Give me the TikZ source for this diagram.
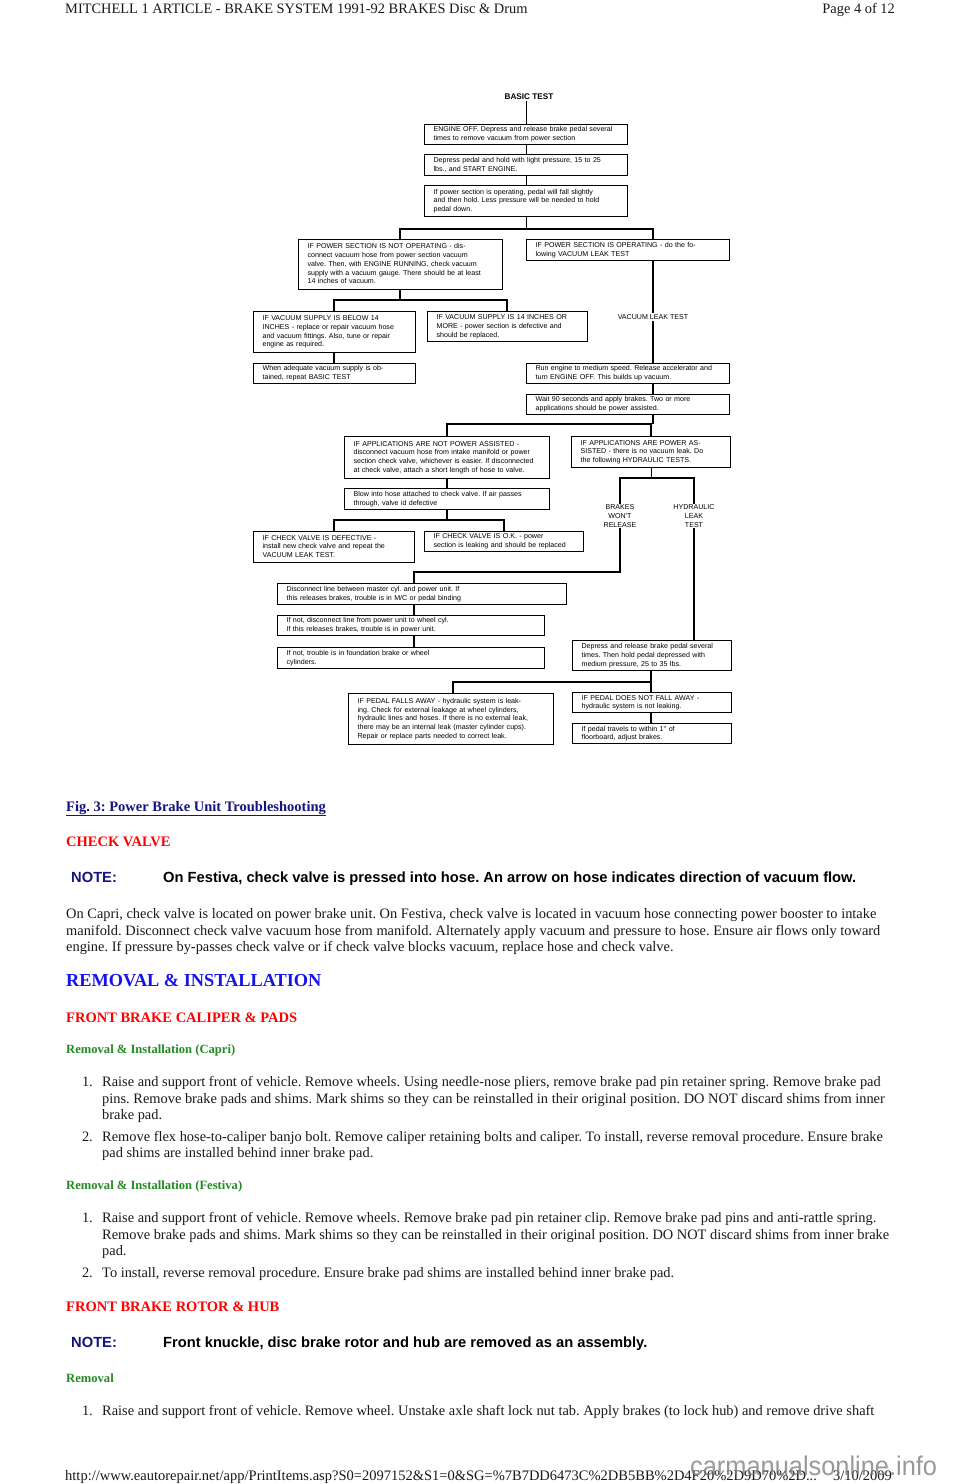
\documentclass[tikz,border=0pt]{standalone}
\usepackage{fontspec}
\setmainfont{Liberation Serif}
\newfontfamily\arial{Liberation Sans}
\definecolor{navyc}{RGB}{20,20,128}
\definecolor{bluec}{RGB}{20,20,235}
\definecolor{redc}{RGB}{255,0,0}
\definecolor{greenc}{RGB}{34,139,34}
\definecolor{inkc}{RGB}{25,25,25}
\definecolor{wmc}{RGB}{120,120,120}
\newcommand\flowf{\arial\fontsize{7.1}{8.7}\selectfont}
\newcommand\bodyf{\fontsize{14.4}{16.5}\selectfont}
\newcommand\lns[1]{\begin{tabular}{@{}l@{}}#1\end{tabular}}
\frenchspacing
\tikzset{
  fb/.style={draw, line width=1.2pt, anchor=north west, inner xsep=9pt, inner ysep=1pt, align=left, font=\flowf},
  lbl/.style={font=\flowf, align=center, inner sep=1pt},
  conn/.style={line width=1.1pt},
  txt/.style={anchor=base west, inner sep=0pt, font=\bodyf, text=inkc},
  num/.style={anchor=base east, inner sep=0pt, font=\bodyf, text=inkc},
  redh/.style={anchor=base west, inner sep=0pt, font=\fontsize{14.5}{16}\selectfont\bfseries, text=redc},
  greenh/.style={anchor=base west, inner sep=0pt, font=\fontsize{12.6}{14}\selectfont\bfseries, text=greenc},
  notel/.style={anchor=base west, inner sep=0pt, font=\arial\fontsize{14.7}{16}\selectfont\bfseries, text=navyc},
  notet/.style={anchor=base west, inner sep=0pt, font=\arial\fontsize{14.7}{16}\selectfont\bfseries, text=black},
  headf/.style={inner sep=0pt, font=\fontsize{14.4}{16}\selectfont, text=inkc}
}
\begin{document}
\begin{tikzpicture}[x=1pt,y=-1pt]
\useasboundingbox[fill=white] (0,0) rectangle (960,1484);
% header
\node[headf, anchor=base west] (hdl) at (65,13) {MITCHELL 1 ARTICLE - BRAKE SYSTEM 1991-92 BRAKES Disc \& Drum};
\node[headf, anchor=base east] (hdr) at (895,13) {Page 4 of 12};

% ---------- flowchart ----------
\node[lbl, font=\arial\fontsize{8.2}{9}\selectfont\bfseries] (basic) at (529,97) {BASIC TEST};
\node[fb, minimum height=20pt, text width=185pt] (a1) at (424,124) {\lns{ENGINE OFF. Depress and release brake pedal several\\ times to remove vacuum from power section}};
\node[fb, minimum height=21pt, text width=185pt] (a2) at (424,154) {\lns{Depress pedal and hold with light pressure, 15 to 25\\ lbs., and START ENGINE.}};
\node[fb, minimum height=31pt, text width=185pt] (a3) at (424,185) {\lns{If power section is operating, pedal will fall slightly\\ and then hold. Less pressure will be needed to hold\\ pedal down.}};
\node[fb, minimum height=50pt, text width=186pt] (l1) at (298,239) {\lns{IF POWER SECTION IS NOT OPERATING - dis-\\ connect vacuum hose from power section vacuum\\ valve. Then, with ENGINE RUNNING, check vacuum\\ supply with a vacuum gauge. There should be at least\\ 14 inches of vacuum.}};
\node[fb, minimum height=21pt, text width=185pt] (r1) at (526,239) {\lns{IF POWER SECTION IS OPERATING - do the fo-\\ lowing VACUUM LEAK TEST}};
\node[fb, minimum height=41pt, text width=144pt] (l2a) at (253,311) {\lns{IF VACUUM SUPPLY IS BELOW 14\\ INCHES - replace or repair vacuum hose\\ and vacuum fittings. Also, tune or repair\\ engine as required.}};
\node[fb, minimum height=30pt, text width=142pt] (l2b) at (427,311) {\lns{IF VACUUM SUPPLY IS 14 INCHES OR\\ MORE - power section is defective and\\ should be replaced.}};
\node[fb, minimum height=20pt, text width=144pt] (l3) at (253,363) {\lns{When adequate vacuum supply is ob-\\ tained, repeat BASIC TEST}};
\node[lbl] (vlt) at (653,317) {VACUUM LEAK TEST};
\node[fb, minimum height=20pt, text width=185pt] (r2) at (526,363) {\lns{Run engine to medium speed. Release accelerator and\\ turn ENGINE OFF. This builds up vacuum.}};
\node[fb, minimum height=20pt, text width=185pt] (r3) at (526,394) {\lns{Wait 90 seconds and apply brakes. Two or more\\ applications should be power assisted.}};
\node[fb, minimum height=42pt, text width=187pt] (l4) at (344,436) {\lns{IF APPLICATIONS ARE NOT POWER ASSISTED -\\ disconnect vacuum hose from intake manifold or power\\ section check valve, whichever is easier. If disconnected\\ at check valve, attach a short length of hose to valve.}};
\node[fb, minimum height=31pt, text width=141pt] (r4) at (571,436) {\lns{IF APPLICATIONS ARE POWER AS-\\ SISTED - there is no vacuum leak. Do\\ the following HYDRAULIC TESTS.}};
\node[fb, minimum height=21pt, text width=187pt] (l5) at (344,488) {\lns{Blow into hose attached to check valve. If air passes\\ through, valve id defective}};
\node[fb, minimum height=31pt, text width=143pt] (l6a) at (253,531) {\lns{IF CHECK VALVE IS DEFECTIVE -\\ install new check valve and repeat the\\ VACUUM LEAK TEST.}};
\node[fb, minimum height=20pt, text width=141pt] (l6b) at (424,531) {\lns{IF CHECK VALVE IS O.K. - power\\ section is leaking and should be replaced}};
\node[lbl] (bwr) at (620,516) {BRAKES\\ WON'T\\ RELEASE};
\node[lbl] (hlt) at (694,516) {HYDRAULIC\\ LEAK\\ TEST};
\node[fb, minimum height=21pt, text width=271pt] (l7) at (277,583) {\lns{Disconnect line between master cyl. and power unit. If\\ this releases brakes, trouble is in M/C or pedal binding}};
\node[fb, minimum height=20pt, text width=249pt] (l8) at (277,615) {\lns{If not, disconnect line from power unit to wheel cyl.\\ If this releases brakes, trouble is in power unit.}};
\node[fb, minimum height=21pt, text width=249pt] (l9) at (277,647) {\lns{If not, trouble is in foundation brake or wheel\\ cylinders.}};
\node[fb, minimum height=30pt, text width=141pt] (r5) at (572,640) {\lns{Depress and release brake pedal several\\ times. Then hold pedal depressed with\\ medium pressure, 25 to 35 lbs.}};
\node[fb, minimum height=51pt, text width=187pt] (l10) at (348,693) {\lns{IF PEDAL FALLS AWAY - hydraulic system is leak-\\ ing. Check for external leakage at wheel cylinders,\\ hydraulic lines and hoses. If there is no external leak,\\ there may be an internal leak (master cylinder cups).\\ Repair or replace parts needed to correct leak.}};
\node[fb, minimum height=20pt, text width=141pt] (r6) at (572,692) {\lns{IF PEDAL DOES NOT FALL AWAY -\\ hydraulic system is not leaking.}};
\node[fb, minimum height=20pt, text width=141pt] (r7) at (572,723) {\lns{If pedal travels to within 1'' of\\ floorboard, adjust brakes.}};

% junction coordinates
\coordinate (j1l) at (400,229);
\coordinate (j1r) at (653,229);
\coordinate (j2l) at (334,300);
\coordinate (j2r) at (507,300);
\coordinate (j3l) at (447,424);
\coordinate (j3r) at (651,424);
\coordinate (j4l) at (620,478);
\coordinate (j4r) at (694,478);
\coordinate (j5l) at (334,520);
\coordinate (j5r) at (504,520);
\coordinate (j6a) at (620,572);
\coordinate (j6b) at (414,572);
\coordinate (j7l) at (453,682);
\coordinate (j7r) at (651,682);

% connectors
\draw[conn] (basic.south -| a1.north) -- (a1.north);
\draw[conn] (a1) -- (a2);
\draw[conn] (a2) -- (a3);
\draw[conn] (a3.south) -- (a3.south |- j1l);
\draw[conn] (j1l |- l1.north) -- (j1l) -- (j1r) -- (j1r |- r1.north);
\draw[conn] (l1.south -| j1l) -- (j1l |- j2l);
\draw[conn] (j2l |- l2a.north) -- (j2l) -- (j2r) -- (j2r |- l2b.north);
\draw[conn] (l2a.south -| j2l) -- (l3.north -| j2l);
\draw[conn] (r1.south -| j1r) -- (vlt.north -| j1r);
\draw[conn] (vlt.south -| j1r) -- (r2.north -| j1r);
\draw[conn] (r2.south -| j1r) -- (r3.north -| j1r);
\draw[conn] (r3.south -| j1r) -- (j1r |- j3l);
\draw[conn] (l4.north -| j3l) -- (j3l) -- (j3r) -- (r4.north -| j3r);
\draw[conn] (l4.south -| j3l) -- (l5.north -| j3l);
\draw[conn] (l5.south -| j3l) -- (j3l |- j5l);
\draw[conn] (l6a.north -| j5l) -- (j5l) -- (j5r) -- (l6b.north -| j5r);
\draw[conn] (r4.south) -- (r4.south |- j4l);
\draw[conn] (bwr.north -| j4l) -- (j4l) -- (j4r) -- (hlt.north -| j4r);
\draw[conn] (bwr.south -| j6a) -- (j6a) -- (j6b) -- (l7.north -| j6b);
\draw[conn] (l7.south -| j6b) -- (l8.north -| j6b);
\draw[conn] (l8.south -| j6b) -- (l9.north -| j6b);
\draw[conn] (hlt.south -| j4r) -- (r5.north -| j4r);
\draw[conn] (r5.south -| j7r) -- (j7r);
\draw[conn] (l10.north -| j7l) -- (j7l) -- (j7r) -- (r6.north -| j7r);
\draw[conn] (r6.south -| j7r) -- (r7.north -| j7r);

% ---------- page text ----------
\node[anchor=base west, inner sep=0pt, font=\fontsize{14.5}{16}\selectfont\bfseries, text=navyc] (fig) at (66,811) {\underline{Fig. 3: Power Brake Unit Troubleshooting}};
\node[redh] (cv) at (66,846) {CHECK VALVE};
\node[notel] (n1) at (71,882) {NOTE:};
\node[notet] (n1t) at (163,882) {On Festiva, check valve is pressed into hose. An arrow on hose indicates direction of vacuum flow.};
\node[txt] (p1) at (66,918) {On Capri, check valve is located on power brake unit. On Festiva, check valve is located in vacuum hose connecting power booster to intake};
\node[txt] (p2) at (66,935) {manifold. Disconnect check valve vacuum hose from manifold. Alternately apply vacuum and pressure to hose. Ensure air flows only toward};
\node[txt] (p3) at (66,951) {engine. If pressure by-passes check valve or if check valve blocks vacuum, replace hose and check valve.};
\node[anchor=base west, inner sep=0pt, font=\fontsize{18.3}{20}\selectfont\bfseries, text=bluec] (ri) at (66,986) {REMOVAL \& INSTALLATION};
\node[redh] (fbc) at (66,1022) {FRONT BRAKE CALIPER \& PADS};
\node[greenh] (ric) at (66,1053) {Removal \& Installation (Capri)};
\node[num] (c1n) at (93,1086) {1.};
\node[txt] (c1a) at (102,1086) {Raise and support front of vehicle. Remove wheels. Using needle-nose pliers, remove brake pad pin retainer spring. Remove brake pad};
\node[txt] (c1b) at (102,1103) {pins. Remove brake pads and shims. Mark shims so they can be reinstalled in their original position. DO NOT discard shims from inner};
\node[txt] (c1c) at (102,1119) {brake pad.};
\node[num] (c2n) at (93,1141) {2.};
\node[txt] (c2a) at (102,1141) {Remove flex hose-to-caliper banjo bolt. Remove caliper retaining bolts and caliper. To install, reverse removal procedure. Ensure brake};
\node[txt] (c2b) at (102,1157) {pad shims are installed behind inner brake pad.};
\node[greenh] (rif) at (66,1189) {Removal \& Installation (Festiva)};
\node[num] (f1n) at (93,1222) {1.};
\node[txt] (f1a) at (102,1222) {Raise and support front of vehicle. Remove wheels. Remove brake pad pin retainer clip. Remove brake pad pins and anti-rattle spring.};
\node[txt] (f1b) at (102,1239) {Remove brake pads and shims. Mark shims so they can be reinstalled in their original position. DO NOT discard shims from inner brake};
\node[txt] (f1c) at (102,1255) {pad.};
\node[num] (f2n) at (93,1277) {2.};
\node[txt] (f2a) at (102,1277) {To install, reverse removal procedure. Ensure brake pad shims are installed behind inner brake pad.};
\node[redh] (frh) at (66,1311) {FRONT BRAKE ROTOR \& HUB};
\node[notel] (n2) at (71,1347) {NOTE:};
\node[notet] (n2t) at (163,1347) {Front knuckle, disc brake rotor and hub are removed as an assembly.};
\node[greenh] (rem) at (66,1382) {Removal};
\node[num] (r1n) at (93,1415) {1.};
\node[txt] (r1a) at (102,1415) {Raise and support front of vehicle. Remove wheel. Unstake axle shaft lock nut tab. Apply brakes (to lock hub) and remove drive shaft};

% footer
\node[headf, font=\fontsize{14.5}{16}\selectfont, anchor=base west] (url) at (65,1480) {http://www.eautorepair.net/app/PrintItems.asp?S0=2097152\&S1=0\&SG=\%7B7DD6473C\%2DB5BB\%2D4F20\%2D9D70\%2D...};
\node[headf, font=\fontsize{14.5}{16}\selectfont, anchor=base east] (date) at (892,1480) {3/10/2009};
\node[anchor=base west, inner sep=0pt, font=\arial\fontsize{27}{27}\selectfont, text=wmc, text opacity=0.75, xscale=0.94, transform shape] (wm) at (690,1475) {carmanualsonline.info};
\end{tikzpicture}
\end{document}
